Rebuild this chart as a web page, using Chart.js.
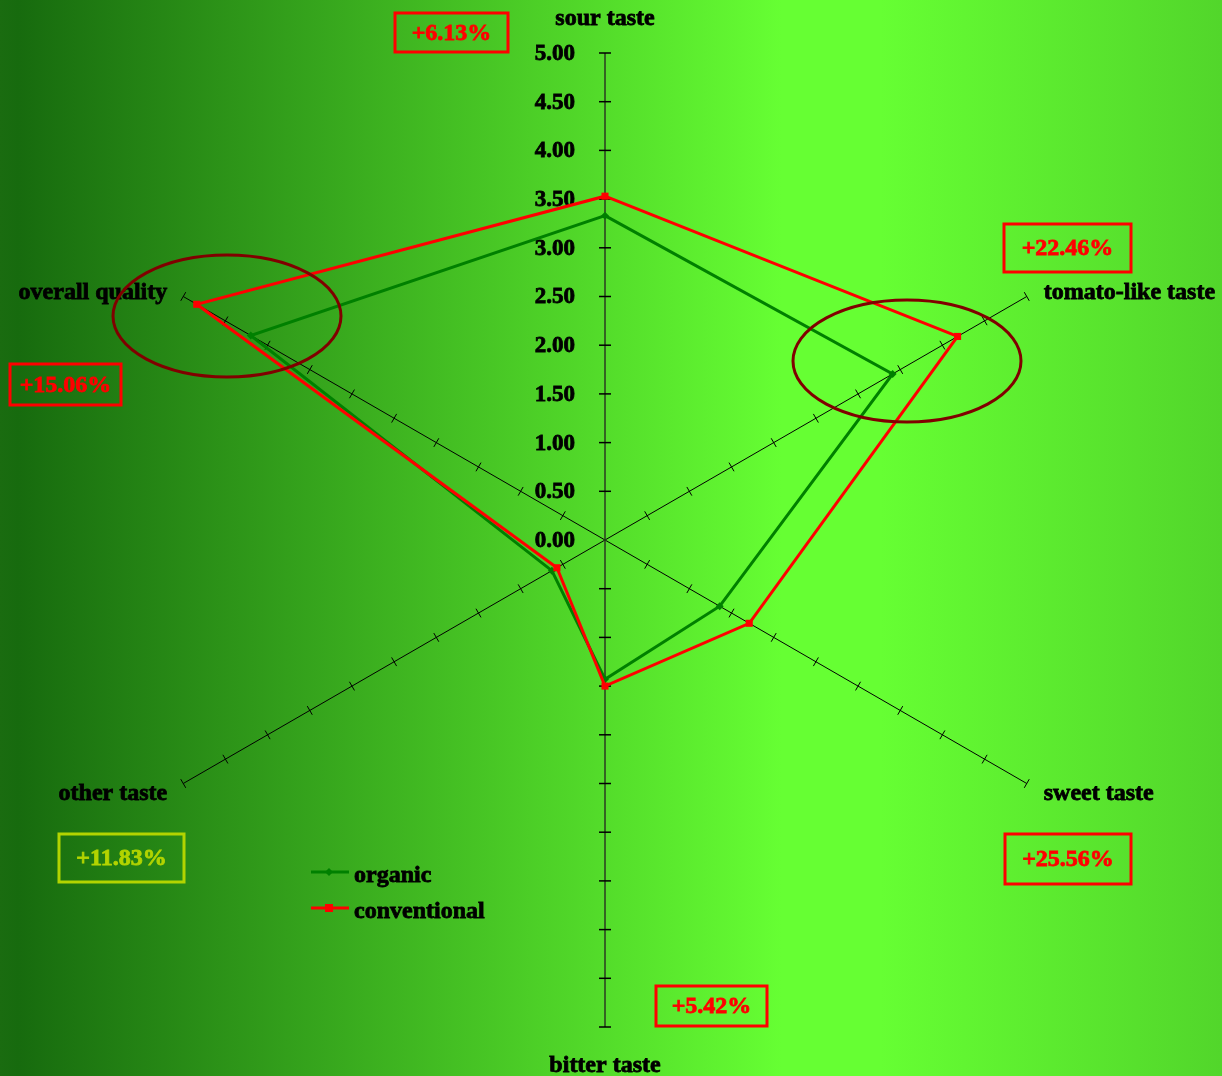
<!DOCTYPE html>
<html lang="en">
<head>
    <meta charset="UTF-8">
    <script src="https://cdn.jsdelivr.net/npm/chart.js@4.4.0/dist/chart.umd.min.js"></script>
    <title>Taste profile</title>
    <style>
        body { margin: 0; }
        .chart {
            width: 1222px;
            height: 1076px;
            background: linear-gradient(to right, #1a6c10 0%, #176b0e 1.5%, #66ff33 64%, #66ff33 72%, #52d62b 100%);
        }
    </style>
</head>
<body>
<div class="chart">
    <canvas id="myChart" width="1222" height="1076"></canvas>
</div>

<script>
    // axes of the spider chart
    const categories = ['sour taste', 'tomato-like taste', 'sweet taste', 'bitter taste', 'other taste', 'overall quality'];
    const organic = [3.33, 3.41, 1.36, 1.43, 0.63, 4.20];
    const conventional = [3.53, 4.18, 1.71, 1.50, 0.57, 4.84];
    const tickValues = [0, 0.5, 1, 1.5, 2, 2.5, 3, 3.5, 4, 4.5, 5];
    const tickLabels = ['0.00', '0.50', '1.00', '1.50', '2.00', '2.50', '3.00', '3.50', '4.00', '4.50', '5.00'];

    // difference boxes
    const diffTexts = ['+6.13%', '+22.46%', '+25.56%', '+5.42%', '+11.83%', '+15.06%'];
    const diffBoxes = [
        { x: 395, y: 13, w: 113, h: 39, color: '#ff0000' },
        { x: 1004, y: 224, w: 127, h: 48, color: '#ff0000' },
        { x: 1005, y: 834, w: 126, h: 50, color: '#ff0000' },
        { x: 656, y: 986, w: 111, h: 40, color: '#ff0000' },
        { x: 59, y: 834, w: 125, h: 48, color: '#b2d400' },
        { x: 10, y: 364, w: 111, h: 41, color: '#ff0000' }
    ];
    const ellipses = [
        { cx: 227, cy: 316, rx: 114, ry: 61 },
        { cx: 907, cy: 361, rx: 114, ry: 61 }
    ];

    const FONT = 'bold 24px "Liberation Serif", "Times New Roman", serif';
    const TICK_FONT = 'bold 23px "Liberation Serif", "Times New Roman", serif';

    // bold text with a thin outline so it looks as heavy as the original
    function heavyText(ctx, text, x, y, color) {
        ctx.fillStyle = color;
        ctx.strokeStyle = color;
        ctx.lineWidth = 0.8;
        ctx.fillText(text, x, y);
        ctx.strokeText(text, x, y);
    }

    const spiderPlugin = {
        id: 'spider',
        beforeDatasetsDraw(chart) {
            const ctx = chart.ctx;
            const r = chart.scales.r;
            ctx.save();

            // oblique axes, thin with perpendicular ticks
            categories.forEach((c, i) => {
                if (i === 0 || i === 3) return;
                const end = r.getPointPositionForValue(i, 5);
                ctx.strokeStyle = '#000';
                ctx.lineWidth = 1;
                ctx.beginPath();
                ctx.moveTo(r.xCenter, r.yCenter);
                ctx.lineTo(end.x, end.y);
                ctx.stroke();
                const a = r.getIndexAngle(i) - Math.PI / 2;
                const px = -Math.sin(a), py = Math.cos(a);
                tickValues.forEach(v => {
                    if (v === 0) return;
                    const p = r.getPointPositionForValue(i, v);
                    ctx.beginPath();
                    ctx.moveTo(p.x - px * 5, p.y - py * 5);
                    ctx.lineTo(p.x + px * 5, p.y + py * 5);
                    ctx.stroke();
                });
            });

            // vertical axis (sour / bitter)
            ctx.strokeStyle = '#2b3a22';
            ctx.lineWidth = 1.5;
            const top = r.getPointPositionForValue(0, 5);
            const bot = r.getPointPositionForValue(3, 5);
            ctx.beginPath();
            ctx.moveTo(top.x, top.y);
            ctx.lineTo(bot.x, bot.y);
            ctx.stroke();
            ctx.strokeStyle = '#000';
            [0, 3].forEach(i => {
                tickValues.forEach(v => {
                    if (v === 0) return;
                    const p = r.getPointPositionForValue(i, v);
                    ctx.beginPath();
                    ctx.moveTo(p.x - 6, p.y);
                    ctx.lineTo(p.x + 6, p.y);
                    ctx.stroke();
                });
            });

            // tick labels left of the sour axis
            ctx.font = TICK_FONT;
            ctx.textAlign = 'right';
            ctx.textBaseline = 'middle';
            tickValues.forEach((v, k) => {
                const p = r.getPointPositionForValue(0, v);
                heavyText(ctx, tickLabels[k], p.x - 30, p.y + 1, '#000');
            });

            // axis titles
            ctx.font = FONT;
            ctx.textBaseline = 'alphabetic';
            categories.forEach((c, i) => {
                const p = r.getPointPositionForValue(i, 5);
                if (i === 0) {
                    ctx.textAlign = 'center';
                    heavyText(ctx, c, p.x, p.y - 28, '#000');
                } else if (i === 3) {
                    ctx.textAlign = 'center';
                    heavyText(ctx, c, p.x, p.y + 45, '#000');
                } else if (i === 1 || i === 2) {
                    ctx.textAlign = 'left';
                    heavyText(ctx, c, p.x + 17, p.y + (i === 1 ? 2 : 16), '#000');
                } else {
                    ctx.textAlign = 'right';
                    heavyText(ctx, c, p.x - 16, p.y + (i === 5 ? 2 : 16), '#000');
                }
            });
            ctx.restore();
        },
        afterDatasetsDraw(chart) {
            const ctx = chart.ctx;
            ctx.save();

            // highlight ellipses
            ctx.strokeStyle = '#800000';
            ctx.lineWidth = 3;
            ellipses.forEach(e => {
                ctx.beginPath();
                ctx.ellipse(e.cx, e.cy, e.rx, e.ry, 0, 0, Math.PI * 2);
                ctx.stroke();
            });

            // difference boxes
            ctx.font = FONT;
            ctx.textAlign = 'center';
            ctx.textBaseline = 'middle';
            diffBoxes.forEach((b, k) => {
                ctx.strokeStyle = b.color;
                ctx.lineWidth = 3;
                ctx.strokeRect(b.x, b.y, b.w, b.h);
                heavyText(ctx, diffTexts[k], b.x + b.w / 2, b.y + b.h / 2 + 1, b.color);
            });

            // legend
            const items = chart.data.datasets;
            items.forEach((ds, k) => {
                const y = 872 + k * 36;
                ctx.strokeStyle = ds.borderColor;
                ctx.lineWidth = 3;
                ctx.beginPath();
                ctx.moveTo(311, y);
                ctx.lineTo(349, y);
                ctx.stroke();
                ctx.fillStyle = ds.borderColor;
                if (ds.pointStyle === 'rect') {
                    ctx.fillRect(325, y - 4, 8, 8);
                } else {
                    ctx.beginPath();
                    ctx.moveTo(329, y - 4);
                    ctx.lineTo(333, y);
                    ctx.lineTo(329, y + 4);
                    ctx.lineTo(325, y);
                    ctx.closePath();
                    ctx.fill();
                }
                ctx.textAlign = 'left';
                ctx.textBaseline = 'alphabetic';
                heavyText(ctx, ds.label, 354, y + 10, '#000');
            });
            ctx.restore();
        }
    };

    const ctx = document.getElementById('myChart').getContext('2d');
    const myChart = new Chart(ctx, {
        type: 'radar',
        data: {
            labels: categories,
            datasets: [{
                label: 'organic',
                data: organic,
                borderColor: '#008000',
                backgroundColor: '#008000',
                borderWidth: 3,
                fill: false,
                pointStyle: 'rectRot',
                pointRadius: 4,
                pointBorderWidth: 0,
                order: 1
            }, {
                label: 'conventional',
                data: conventional,
                borderColor: '#ff0000',
                backgroundColor: '#ff0000',
                borderWidth: 3,
                fill: false,
                pointStyle: 'rect',
                pointRadius: 5,
                pointBorderWidth: 0,
                order: 0
            }]
        },
        options: {
            responsive: false,
            animation: false,
            devicePixelRatio: 1,
            layout: { padding: { left: 118, right: 130, top: 53, bottom: 49 } },
            elements: { line: { tension: 0 } },
            plugins: {
                legend: { display: false },
                tooltip: { enabled: false }
            },
            scales: {
                r: {
                    min: 0,
                    max: 5,
                    ticks: { display: false, stepSize: 0.5 },
                    grid: { display: false },
                    angleLines: { display: false },
                    pointLabels: { display: false }
                }
            }
        },
        plugins: [spiderPlugin]
    });
</script>
</body>
</html>
